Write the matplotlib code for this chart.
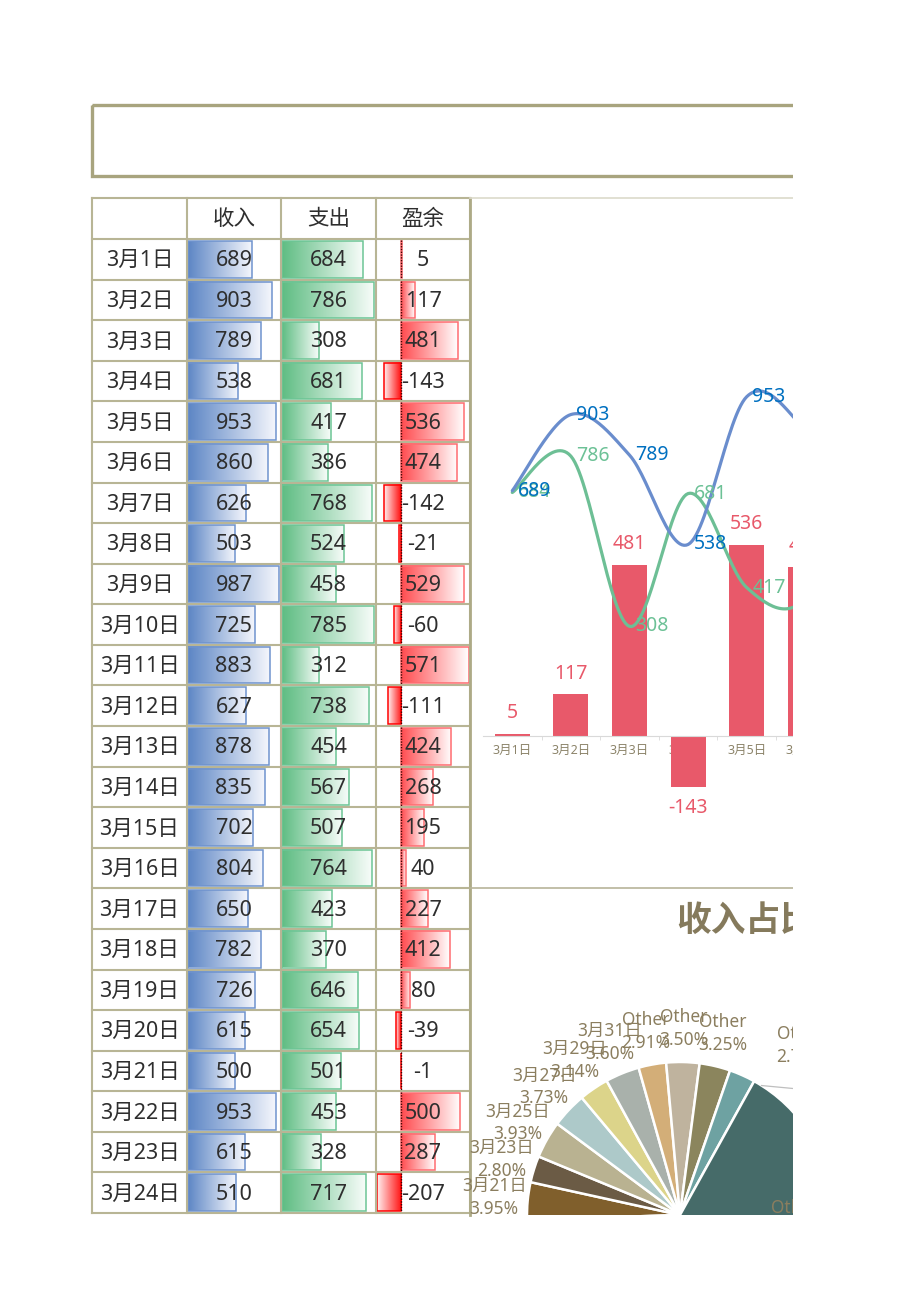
import numpy as np
import matplotlib
matplotlib.use("Agg")
import matplotlib.pyplot as plt
from matplotlib.patches import Rectangle
from matplotlib.colors import to_rgb

# Noto Sans for the digits, CJK family for the Chinese glyphs
plt.rcParams['font.family'] = ['Noto Sans', 'Noto Sans CJK SC', 'DejaVu Sans']

# table / chart data (3月1日 - 3月24日)
dates = ["3月1日", "3月2日", "3月3日", "3月4日", "3月5日", "3月6日", "3月7日", "3月8日",
         "3月9日", "3月10日", "3月11日", "3月12日", "3月13日", "3月14日", "3月15日", "3月16日",
         "3月17日", "3月18日", "3月19日", "3月20日", "3月21日", "3月22日", "3月23日", "3月24日"]
income = [689, 903, 789, 538, 953, 860, 626, 503, 987, 725, 883, 627,
          878, 835, 702, 804, 650, 782, 726, 615, 500, 953, 615, 510]
expense = [684, 786, 308, 681, 417, 386, 768, 524, 458, 785, 312, 738,
           454, 567, 507, 764, 423, 370, 646, 654, 501, 453, 328, 717]
surplus = [5, 117, 481, -143, 536, 474, -142, -21, 529, -60, 571, -111,
           424, 268, 195, 40, 227, 412, 80, -39, -1, 500, 287, -207]
headers = ["", "收入", "支出", "盈余"]

# pie data (visible part)
pie_names = ["3月21日", "3月23日", "3月25日", "3月27日", "3月29日", "3月31日",
             "Other", "Other", "Other", "Other", "Other"]
pie_pcts = [3.95, 2.80, 3.93, 3.73, 3.14, 3.60, 2.91, 3.50, 3.25, 2.75, 66.44]
pie_colors = ["#805F2C", "#6B5B45", "#B9B291", "#ADC9C9", "#DCD48A", "#A9B1AB",
              "#D3AE78", "#BFB39E", "#8B855D", "#6EA2A2", "#466B69"]

W, H = 920, 1301
fig = plt.figure(figsize=(W / 100, H / 100), dpi=100)

def frac(x0, y0, x1, y1):
    # pixel box (top-left origin) -> figure fraction
    return [x0 / W, 1 - y1 / H, (x1 - x0) / W, (y1 - y0) / H]

ax = fig.add_axes([0, 0, 1, 1])
ax.set_xlim(0, W)
ax.set_ylim(H, 0)
ax.set_autoscale_on(False)
ax.axis('off')

grid_c = "#B8B595"
text_c = "#2E2E2E"

# title box (empty)
ax.add_patch(Rectangle((92, 105), 1000, 71, fill=False, ec="#A8A47E", lw=2.4, zorder=3))

# ---- table ----
col_x = [92, 187, 281, 376, 470]
top, head_h = 198, 41
row_h = (1213 - 239) / len(dates)
row_y = [239 + i * row_h for i in range(len(dates) + 1)]


def grad_bar(x0, x1, y0, y1, c_left, c_right, edge):
    a = np.array(to_rgb(c_left))
    b = np.array(to_rgb(c_right))
    t = np.linspace(0, 1, 128)[None, :, None]
    img = a + (b - a) * t
    ax.imshow(img, extent=(x0, x1, y1, y0), aspect='auto', interpolation='bilinear', zorder=2)
    ax.add_patch(Rectangle((x0, y0), x1 - x0, y1 - y0, fill=False, ec=edge, lw=1.1, zorder=3))


inc_scale = (col_x[2] - col_x[1] - 3) / max(income)
exp_scale = (col_x[3] - col_x[2] - 3) / max(expense)
s_min, s_max = abs(min(surplus)), max(surplus)
cw = col_x[4] - col_x[3]
axis_x = col_x[3] + cw * s_min / (s_min + s_max)
sur_scale = (cw - 2) / (s_min + s_max)

for i in range(len(dates)):
    y0, y1 = row_y[i] + 2, row_y[i + 1] - 2
    x0 = col_x[1] + 1.5
    grad_bar(x0, x0 + income[i] * inc_scale, y0, y1, "#5D86C5", "#F4F6FC", "#6F93CE")
    x0 = col_x[2] + 1.5
    grad_bar(x0, x0 + expense[i] * exp_scale, y0, y1, "#5FBD83", "#F7FCF9", "#6CC595")
    v = surplus[i]
    if v > 0:
        grad_bar(axis_x, axis_x + v * sur_scale, y0, y1, "#FF4B4F", "#FFFFFF", "#FF6C70")
    elif v < 0:
        grad_bar(axis_x + v * sur_scale, axis_x, y0, y1, "#FFF0F0", "#FF1010", "#FF0000")
    ax.plot([axis_x, axis_x], [row_y[i] + 1, row_y[i + 1] - 1], color="#400000",
            lw=1.0, ls=(0, (1, 1)), zorder=4)
    yc = (row_y[i] + row_y[i + 1]) / 2 + 1.5
    vals = [dates[i], income[i], expense[i], surplus[i]]
    for j, val in enumerate(vals):
        ax.text((col_x[j] + col_x[j + 1]) / 2, yc, str(val), ha='center', va='center',
                fontsize=15.5, color=text_c, zorder=5)

for j, h in enumerate(headers):
    ax.text((col_x[j] + col_x[j + 1]) / 2, top + head_h / 2 + 1, h, ha='center', va='center',
            fontsize=15.5, color=text_c, zorder=5)

for y in [top] + row_y:
    ax.plot([col_x[0], col_x[-1]], [y, y], color=grid_c, lw=1.5, zorder=6)
for x in col_x:
    ax.plot([x, x], [top, row_y[-1]], color=grid_c, lw=1.5, zorder=6)
ax.plot([470, 470], [top, 1215], color="#ADAA86", lw=2, zorder=6)

# chart frame lines
ax.plot([470, 800], [198, 198], color="#DCDACB", lw=1.2, zorder=6)
ax.plot([470, 800], [888, 888], color="#B7B499", lw=1.2, zorder=6)

# pie title (clipped on the right like the sheet)
ax.text(676, 922, "收入占比", ha='left', va='center', fontsize=25, fontweight='bold',
        color="#857A5C", zorder=5)

# ---- combo chart ----
step = 58.6
zero_y, px_per = 736, 0.356
cx0 = 483
cax = fig.add_axes(frac(cx0, 200, cx0 + step * len(dates), 880), zorder=2)
cax.patch.set_alpha(0)
cax.set_xlim(-0.5, len(dates) - 0.5)
cax.set_ylim(-(880 - zero_y) / px_per, (zero_y - 200) / px_per)
for s in ["top", "right", "left"]:
    cax.spines[s].set_visible(False)
cax.spines["bottom"].set_position(("data", 0))
cax.spines["bottom"].set_color("#D9D9D9")
cax.set_yticks([])
xs = np.arange(len(dates))
cax.set_xticks(xs)
cax.set_xticklabels(dates)
cax.set_xticks(xs[:-1] + 0.5, minor=True)
cax.tick_params(axis='x', which='major', length=0, pad=6, labelsize=9, labelcolor="#8C846A")
cax.tick_params(axis='x', which='minor', length=3, color="#D9D9D9")

bar_c = "#E8596A"
cax.bar(xs, surplus, width=0.6, color=bar_c, zorder=2)
for x, v in zip(xs, surplus):
    off = 15 if v >= 0 else -15
    cax.annotate(str(v), (x, v), xytext=(0, off), textcoords='offset points',
                 ha='center', va='center', fontsize=14, color=bar_c, zorder=5)


def smooth(xv, yv, n=30):
    xv = np.asarray(xv, float)
    yv = np.asarray(yv, float)
    px = np.concatenate([[xv[0]], xv, [xv[-1]]])
    py = np.concatenate([[yv[0]], yv, [yv[-1]]])
    t = np.linspace(0, 1, n)
    ox, oy = [], []
    for k in range(1, len(px) - 2):
        for p, out in ((px, ox), (py, oy)):
            p0, p1, p2, p3 = p[k - 1], p[k], p[k + 1], p[k + 2]
            c1 = p1 + (p2 - p0) / 6
            c2 = p2 - (p3 - p1) / 6
            out.extend((1 - t) ** 3 * p1 + 3 * (1 - t) ** 2 * t * c1
                       + 3 * (1 - t) * t ** 2 * c2 + t ** 3 * p2)
    return np.array(ox), np.array(oy)


for vals, lc, tc in ((expense, "#6DBF95", "#6CC196"), (income, "#6A8DCD", "#0070C0")):
    sx, sy = smooth(xs, vals)
    cax.plot(sx, sy, color=lc, lw=2.3, zorder=3, solid_capstyle='round')
    for x, v in zip(xs, vals):
        cax.annotate(str(v), (x, v), xytext=(4, 0), textcoords='offset points',
                     ha='left', va='center', fontsize=14, color=tc, zorder=5)

# ---- pie ----
R = 153
pcx = 210
pax = fig.add_axes(frac(470, 888, 890, 1215), zorder=2)
wedges, texts = pax.pie(pie_pcts, colors=pie_colors, radius=R, center=(pcx, 0),
                        startangle=167.6 + pie_pcts[0] * 3.6, counterclock=False,
                        labels=[f"{n}\n{p:.2f}%" for n, p in zip(pie_names, pie_pcts)],
                        labeldistance=1.22,
                        wedgeprops=dict(edgecolor="white", linewidth=1.8),
                        textprops=dict(fontsize=12.5, color="#8B7E5F"))
for t in texts:
    t.set_ha('center')
    t.set_multialignment('center')
    t.set_linespacing(1.35)


def polar(r, deg):
    a = np.deg2rad(deg)
    return pcx + r * np.cos(a), r * np.sin(a)


# the small slice next to the big one gets a leader line
texts[-2].set_position(polar(1.36 * R, 54.5))
lx, ly = polar(R, 57.8)
pax.plot([lx, lx + 32], [ly, ly - 3], color="#BFBFBF", lw=0.9, clip_on=False)
# big slice label sits inside the slice, cut by the chart bottom
texts[-1].set_position(polar(0.75 * R, -2))
texts[-1].set_clip_on(True)
pax.set_xlim(0, 420)
pax.set_ylim(0, 327)
pax.set_aspect('auto')
pax.patch.set_alpha(0)
pax.axis('off')
for w in wedges:
    w.set_clip_on(True)
    w.set_clip_box(pax.bbox)
texts[-1].set_clip_box(pax.bbox)

# everything right of the print area is blank
fig.add_artist(Rectangle((793 / W, 0), 1, 1, transform=fig.transFigure, fc="white",
                         ec="none", zorder=100))

fig.savefig("out.png", dpi=100)
